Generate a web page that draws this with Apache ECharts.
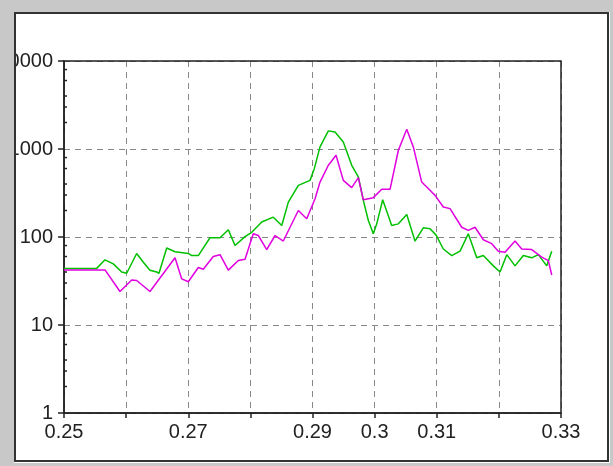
<!DOCTYPE html>
<html>
<head>
<meta charset="utf-8">
<script src="https://cdn.jsdelivr.net/npm/echarts@6/dist/echarts.min.js"></script>
<style>
html,body{margin:0;padding:0;background:#c8c8c8;}
#chart{width:613px;height:466px;}
</style>
</head>
<body>
<div id="chart"></div>
<script>
// ---- data ----
var greenX = [0.25,0.25526,0.2566,0.25794,0.25929,0.26009,0.26035,0.2617,0.26277,0.26384,0.26492,0.26529,0.26653,0.26787,0.27001,0.27056,0.27162,0.2735,0.27511,0.27645,0.27753,0.27914,0.28022,0.28183,0.28369,0.28505,0.28611,0.28772,0.2896,0.29029,0.29121,0.29255,0.29362,0.29496,0.29631,0.29738,0.29818,0.29899,0.29979,0.30034,0.3013,0.30275,0.30382,0.30517,0.3065,0.30784,0.30892,0.3099,0.31106,0.31241,0.31375,0.31508,0.31644,0.3175,0.31911,0.32019,0.32127,0.3226,0.32394,0.32529,0.32635,0.32771,0.32851];
var greenY = [44,44,55,49.5,40,38.7,39.5,65,51.6,42,40,38.7,75,68,65,61.5,61.5,98,98,121,80,101,113,148,168,135,249,386,440,598,1056,1607,1563,1202,653,481,261,154,109,141,265,135,141,180,90,127,124,105,73,61.5,69,109,58,61.5,47,40,63,47,61.5,58,63,47,69];
var magentaX = [0.25,0.2566,0.25901,0.2609,0.2617,0.26384,0.26787,0.26895,0.27001,0.27162,0.27242,0.27403,0.27511,0.27645,0.27806,0.27914,0.28047,0.28128,0.28263,0.28397,0.2853,0.28772,0.28907,0.29041,0.29121,0.29255,0.29379,0.29496,0.29631,0.29738,0.29818,0.29979,0.30114,0.30248,0.30382,0.30517,0.30623,0.30758,0.30892,0.30972,0.31106,0.31214,0.31402,0.31508,0.31616,0.3175,0.31885,0.31991,0.32099,0.3226,0.32368,0.32529,0.3269,0.32796,0.32851];
var magentaY = [42.3,42.3,24,32.5,32,24,58,33.4,31,45,43,60,63,42,54,56,109,104,72,104,90,200,161,272,421,653,849,440,364,472,265,280,348,348,968,1679,1056,421,339,297,219,210,129,119,129,93,84,69,67,90,73,72,59,54,37];
var xTickLabels = ['0.25','0.27','0.29','0.3','0.31','0.33'];
var yTickLabels = ['1','10','100','1000','10000'];
var minorTickMultipliers = [2,3,4,6,8];

function pairs(xs, ys){ return xs.map(function(x,i){ return [x, ys[i]]; }); }

var chart = echarts.init(document.getElementById('chart'), null, {renderer:'canvas'});
var FONT = '"Liberation Sans", Arial, sans-serif';
var option = {
  backgroundColor: '#ffffff',
  animation: false,
  grid: {left:64, top:61, right:52, bottom:53, containLabel:false, outerBoundsMode:'none', show:true, borderColor:'#222', borderWidth:1.5, backgroundColor:'transparent', z:3},
  xAxis: {
    type:'value', min:0.25, max:0.33, interval:0.01,
    axisLine:{show:true, lineStyle:{color:'#222', width:1.5}},
    axisTick:{show:true, inside:false, length:5, lineStyle:{color:'#222', width:1.5}},
    splitLine:{show:true, lineStyle:{color:'#888', width:1, type:[6,5]}},
    axisLabel:{margin:9, fontSize:20, fontFamily:FONT, color:'#222',
      formatter:function(v){ var s=String(Number(v.toFixed(2))); return xTickLabels.indexOf(s)>=0 ? s : ''; }}
  },
  yAxis: {
    type:'log', logBase:10, min:1, max:10000,
    axisLine:{show:true, lineStyle:{color:'#222', width:1.5}},
    axisTick:{show:true, inside:false, length:6, lineStyle:{color:'#222', width:1.5}},
    splitLine:{show:true, lineStyle:{color:'#888', width:1, type:[6,5]}},
    axisLabel:{margin:11, fontSize:20, fontFamily:FONT, color:'#222',
      formatter:function(v){ var s=String(Math.round(v)); return yTickLabels.indexOf(s)>=0 ? s : ''; }}
  },
  series: [
    {type:'line', data:pairs(greenX, greenY), showSymbol:false, symbol:'none', lineStyle:{color:'#00c000', width:1.5}, itemStyle:{color:'#00c000'}, z:4},
    {type:'line', data:pairs(magentaX, magentaY), showSymbol:false, symbol:'none', lineStyle:{color:'#e000e0', width:1.5}, itemStyle:{color:'#e000e0'}, z:5}
  ]
};
chart.setOption(option);

// minor ticks on the log axis (inside) + outer frame
var g = [];
var axisX = chart.convertToPixel({xAxisIndex:0}, 0.25);
for (var k = 0; k < 4; k++) {
  minorTickMultipliers.forEach(function(m){
    var py = chart.convertToPixel({yAxisIndex:0}, m*Math.pow(10,k));
    g.push({type:'line', shape:{x1:axisX, y1:py, x2:axisX+3, y2:py}, style:{stroke:'#222', lineWidth:1.5}, z:50, silent:true});
  });
}
// grey surround covering overflowing labels
g.push({type:'rect', shape:{x:0, y:0, width:14, height:466}, style:{fill:'#c8c8c8'}, z:90, silent:true});
g.push({type:'rect', shape:{x:0, y:0, width:613, height:12}, style:{fill:'#c8c8c8'}, z:90, silent:true});
g.push({type:'rect', shape:{x:610, y:0, width:3, height:466}, style:{fill:'#c8c8c8'}, z:90, silent:true});
g.push({type:'rect', shape:{x:0, y:463, width:613, height:3}, style:{fill:'#c8c8c8'}, z:90, silent:true});
g.push({type:'rect', shape:{x:15, y:13, width:593, height:448}, style:{fill:null, stroke:'#333', lineWidth:2}, z:95, silent:true});
chart.setOption({graphic: g});
</script>
</body>
</html>
